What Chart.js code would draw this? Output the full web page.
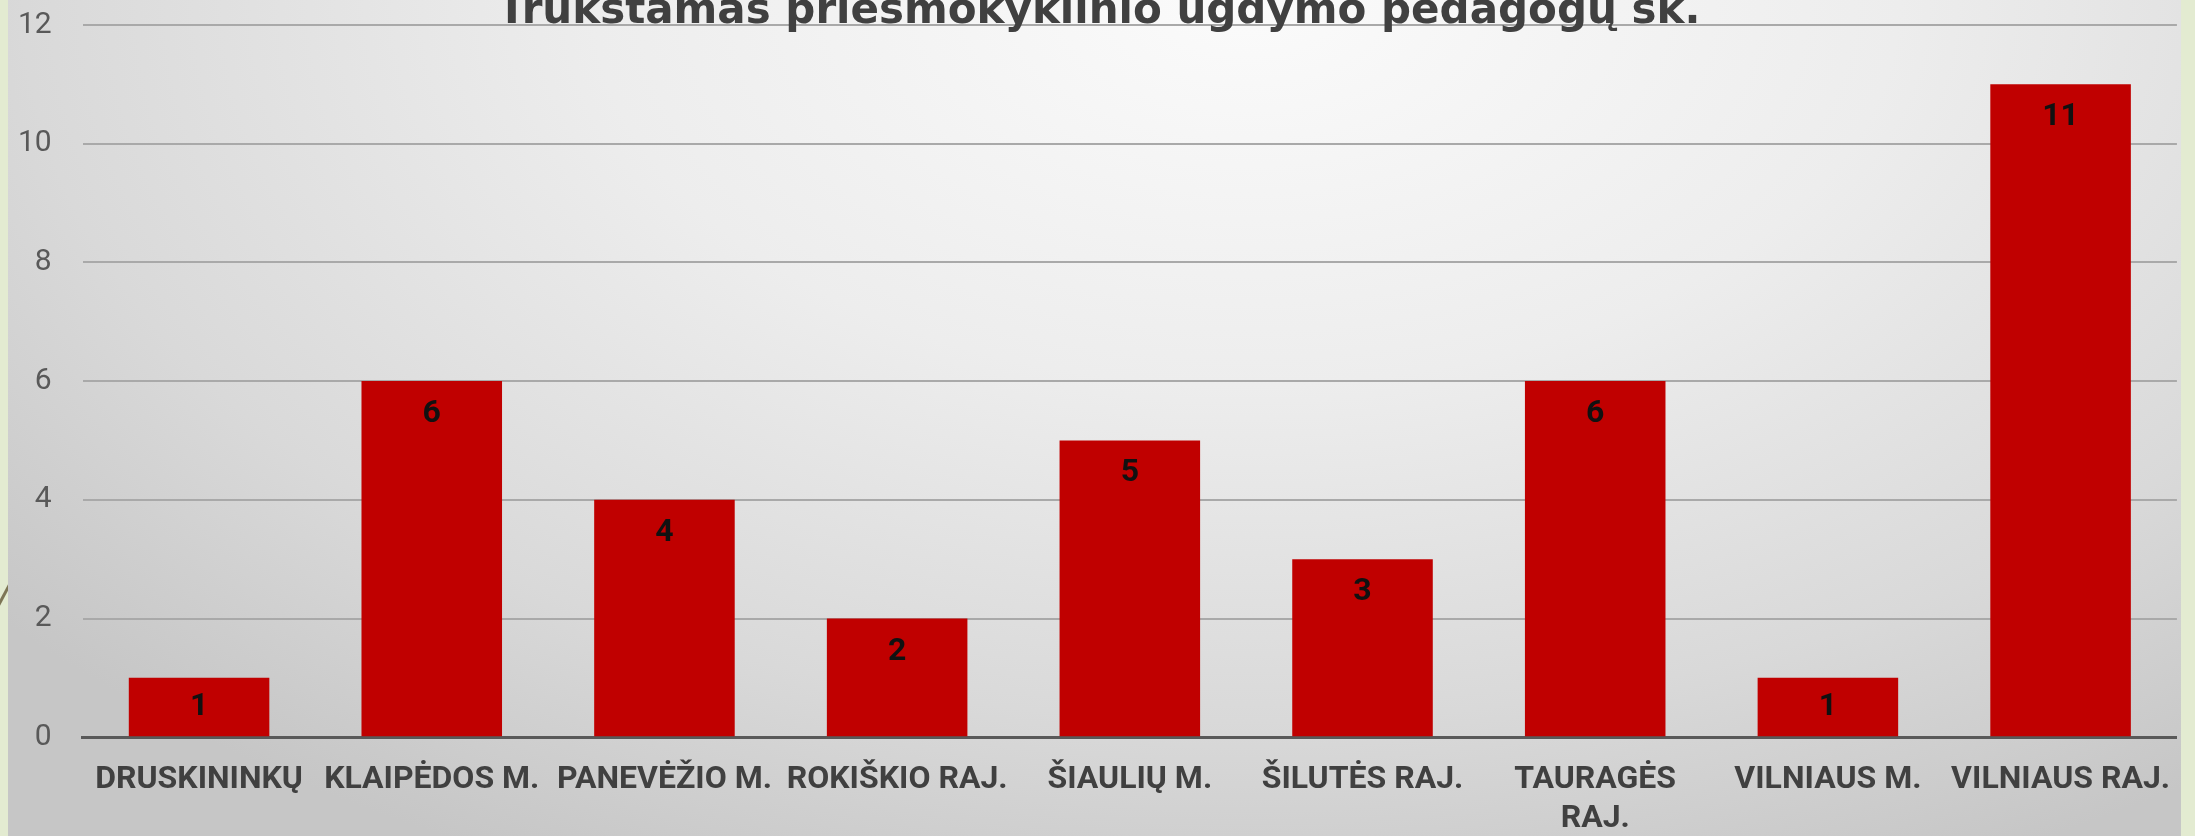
<!DOCTYPE html>
<html lang="lt">
<head>
<meta charset="UTF-8">
<title>Trūkstamas priešmokyklinio ugdymo pedagogų sk.</title>
<script src="https://cdn.jsdelivr.net/npm/chart.js"></script>
<style>
  html, body { margin: 0; padding: 0; }
  body { width: 2195px; height: 836px; background: #e3ebd1; position: relative; overflow: hidden; }
  #deco {
    position: absolute; left: -12px; top: 586px; width: 40px; height: 3px;
    background: #7d7555; transform: rotate(-62deg);
  }
  #panel {
    position: absolute; left: 8px; top: 0; width: 2173px; height: 836px;
    background: radial-gradient(ellipse 75% 115% at 57% 0%, #fbfbfb 0%, #ededed 40%, #d9d9d9 75%, #c6c6c6 100%);
  }
  #wrap { position: absolute; left: 0; top: 0; width: 2195px; height: 836px; }
</style>
</head>
<body>
<div id="deco"></div>
<div id="panel"></div>
<div id="wrap"><canvas id="chart"></canvas></div>

<script>
// chart data
const title = "Trūkstamas priešmokyklinio ugdymo pedagogų sk.";
const categories = ["DRUSKININKŲ", "KLAIPĖDOS M.", "PANEVĖŽIO M.", "ROKIŠKIO RAJ.", "ŠIAULIŲ M.",
                    "ŠILUTĖS RAJ.", ["TAURAGĖS", "RAJ."], "VILNIAUS M.", "VILNIAUS RAJ."];
const values = [1, 6, 4, 2, 5, 3, 6, 1, 11];
const yTicks = [0, 2, 4, 6, 8, 10, 12];

// title drawn over the plot, clipped at the top like the slide
const titlePlugin = {
    id: "slideTitle",
    afterDraw(chart) {
        const ctx = chart.ctx;
        ctx.save();
        ctx.font = "bold 42px 'DejaVu Sans'";
        ctx.fillStyle = "#404040";
        ctx.textAlign = "center";
        ctx.textBaseline = "alphabetic";
        ctx.fillText(title, 1099, 23);
        ctx.restore();
    }
};

// value labels inside the top of each bar
const valueLabels = {
    id: "valueLabels",
    afterDatasetsDraw(chart) {
        const ctx = chart.ctx;
        const meta = chart.getDatasetMeta(0);
        ctx.save();
        ctx.font = "bold 32px Roboto";
        ctx.fillStyle = "#111111";
        ctx.textAlign = "center";
        ctx.textBaseline = "middle";
        meta.data.forEach((bar, i) => {
            const y = Math.min(bar.y + 33, (bar.y + bar.base) / 2);
            ctx.fillText(String(values[i]), bar.x, y);
        });
        ctx.restore();
    }
};

new Chart(document.getElementById("chart"), {
    type: "bar",
    data: {
        labels: categories,
        datasets: [{
            data: values,
            backgroundColor: "#c00000",
            borderWidth: 0,
            categoryPercentage: 1.0,
            barPercentage: 0.604
        }]
    },
    options: {
        responsive: true,
        maintainAspectRatio: false,
        animation: false,
        layout: { padding: { left: -13, right: 17, top: 25, bottom: -26 } },
        plugins: {
            legend: { display: false },
            tooltip: { enabled: false }
        },
        scales: {
            x: {
                grid: { display: false, drawTicks: false },
                border: { display: true, color: "#595959", width: 3 },
                ticks: {
                    color: "#404040",
                    font: { family: "Roboto", weight: "bold", size: 32, lineHeight: 1.2 },
                    padding: 24,
                    maxRotation: 0,
                    autoSkip: false
                }
            },
            y: {
                min: 0,
                max: 12,
                afterBuildTicks(scale) { scale.ticks = yTicks.map(v => ({ value: v })); },
                afterFit(scale) { scale.paddingTop = 0; scale.paddingBottom = 0; },
                grid: { color: "#a9a9a9", lineWidth: 2, drawTicks: false },
                border: { display: false },
                ticks: {
                    color: "#595959",
                    font: { family: "Roboto", size: 30 },
                    padding: 31
                }
            }
        }
    },
    plugins: [titlePlugin, valueLabels]
});
</script>
</body>
</html>
